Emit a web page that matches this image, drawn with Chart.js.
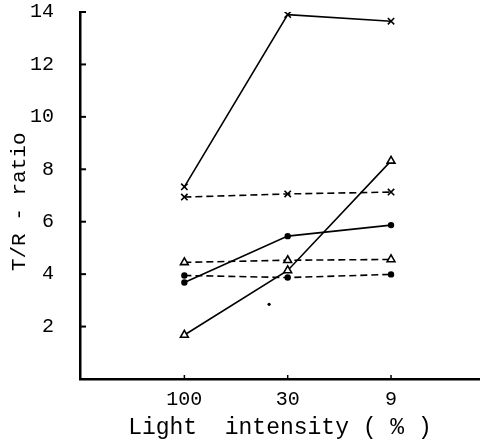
<!DOCTYPE html>
<html>
<head>
<meta charset="utf-8">
<script src="https://cdn.jsdelivr.net/npm/chart.js@4"></script>
<style>
html,body{margin:0;padding:0;background:#fff;}
#wrap{width:486px;height:444px;}
</style>
</head>
<body>
<div id="wrap"><canvas id="c" width="486" height="444"></canvas></div>
<script>
// Categories (light intensity %)
const categories = ["100", "30", "9"];
const yTicks = [2, 4, 6, 8, 10, 12, 14];

// Series values (T/R ratio)
const crossSolid    = [7.33, 13.9, 13.65];
const crossDashed   = [6.94, 7.06, 7.13];
const triSolid      = [1.68, 4.14, 8.32];
const triDashed     = [4.45, 4.53, 4.56];
const dotSolid      = [3.68, 5.45, 5.87];
const dotDashed     = [3.95, 3.87, 3.99];
// stray speck in the original figure
const strayX = [0.82];
const strayY = [2.85];

const FONT = "'Liberation Mono', 'DejaVu Sans Mono', monospace";

function pts(arr) { return arr.map((v, i) => ({x: i, y: v})); }

function series(data, style, dashed) {
  const base = {
    data: pts(data),
    borderColor: '#000',
    borderWidth: 1.6,
    borderDash: dashed ? [7, 4] : [],
    tension: 0,
    fill: false,
    showLine: true,
    pointBorderColor: '#000',
    pointBorderWidth: 1.6
  };
  if (style === 'cross') {
    Object.assign(base, {pointStyle: 'crossRot', pointRadius: 4.5, pointBackgroundColor: '#000'});
  } else if (style === 'tri') {
    Object.assign(base, {pointStyle: 'triangle', pointRadius: 4.5, pointBackgroundColor: '#fff'});
  } else {
    Object.assign(base, {pointStyle: 'circle', pointRadius: 2.4, pointBackgroundColor: '#000'});
  }
  return base;
}

const insideTicks = {
  id: 'insideTicks',
  afterDraw(chart) {
    const ctx = chart.ctx;
    const xs = chart.scales.x, ys = chart.scales.y;
    const ax = ys.right, ay = xs.top;
    ctx.save();
    ctx.strokeStyle = '#000';
    ctx.lineWidth = 2;
    ys.ticks.forEach(t => {
      const y = ys.getPixelForValue(t.value);
      ctx.beginPath(); ctx.moveTo(ax, y); ctx.lineTo(ax + 6, y); ctx.stroke();
    });
    ctx.lineWidth = 1.5;
    xs.ticks.forEach(t => {
      const x = xs.getPixelForValue(t.value);
      ctx.beginPath(); ctx.moveTo(x, ay); ctx.lineTo(x, ay - 4); ctx.stroke();
    });
    ctx.restore();
  }
};

new Chart(document.getElementById('c'), {
  type: 'scatter',
  data: {
    datasets: [
      series(crossSolid, 'cross', false),
      series(crossDashed, 'cross', true),
      series(triSolid, 'tri', false),
      series(triDashed, 'tri', true),
      series(dotSolid, 'dot', false),
      series(dotDashed, 'dot', true),
      {
        data: strayX.map((x, i) => ({x: x, y: strayY[i]})),
        showLine: false, pointStyle: 'circle', pointRadius: 1.6,
        pointBackgroundColor: '#000', pointBorderColor: '#000', borderWidth: 0
      }
    ]
  },
  options: {
    responsive: false,
    animation: false,
    devicePixelRatio: 1,
    layout: {padding: {top: 12, right: 0, left: 0, bottom: 0}},
    plugins: {legend: {display: false}, tooltip: {enabled: false}},
    scales: {
      x: {
        type: 'linear',
        min: -1.01, max: 2.86,
        afterBuildTicks: s => { s.ticks = categories.map((c, i) => ({value: i})); },
        afterFit: s => { s.height = 65; s.paddingLeft = 0; s.paddingRight = 0; },
        grid: {display: false, drawTicks: false},
        border: {display: true, color: '#000', width: 2.5},
        ticks: {
          color: '#000', padding: 9, maxRotation: 0, autoSkip: false,
          font: {family: FONT, size: 20},
          callback: v => categories[v]
        },
        title: {
          display: true, text: 'Light  intensity ( % )', color: '#000',
          font: {family: FONT, size: 23}, padding: {top: 0, bottom: 2}
        }
      },
      y: {
        min: 0, max: 14,
        afterBuildTicks: s => { s.ticks = yTicks.map(v => ({value: v})); },
        afterFit: s => { s.width = 80; s.paddingTop = 0; s.paddingBottom = 0; },
        grid: {display: false, drawTicks: false},
        border: {display: true, color: '#000', width: 2.5},
        ticks: {
          color: '#000', padding: 26,
          font: {family: FONT, size: 20}
        },
        title: {
          display: true, text: 'T/R - ratio ', color: '#000',
          font: {family: FONT, size: 21}, padding: {top: 7, bottom: 0}
        }
      }
    }
  },
  plugins: [insideTicks]
});
</script>
</body>
</html>
